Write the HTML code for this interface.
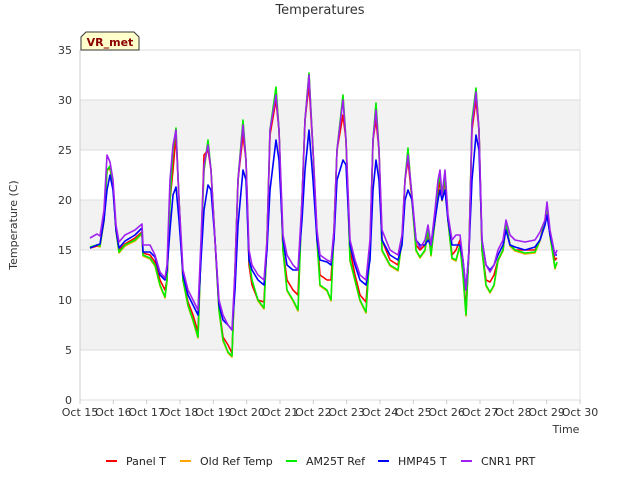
<!DOCTYPE html>
<html><head><meta charset="utf-8"><style>
body{margin:0;background:#fff;}
svg{display:block;font-family:"DejaVu Sans","Liberation Sans",sans-serif;}
</style></head><body>
<svg id="chart" width="640" height="480" viewBox="0 0 640 480">
<text x="320" y="14" text-anchor="middle" font-size="13" fill="#333">Temperatures</text>
<g id="bands"></g>
<g id="grid"></g>
<g id="yticks" font-size="11" fill="#333"></g>
<g id="xticks" font-size="11" fill="#333"></g>
<text x="17" y="225" text-anchor="middle" font-size="11" fill="#333" transform="rotate(-90 17 225)">Temperature (C)</text>
<text x="566" y="433" text-anchor="middle" font-size="11" fill="#333">Time</text>
<g id="series"></g>
<g>
<path d="M81,50 L81,37 L86,32 L134,32 L139,37 L139,50 Z" fill="#ffffcc" stroke="#333" stroke-width="1"/>
<text x="110" y="46" text-anchor="middle" font-size="11" font-weight="bold" fill="#8b0000">VR_met</text>
</g>
<g id="legend" font-size="11" fill="#222"></g>
</svg>
<script>
const times=[0.30,0.51,0.60,0.72,0.81,0.90,0.99,1.08,1.17,1.35,1.65,1.86,1.89,2.10,2.25,2.40,2.55,2.61,2.70,2.79,2.88,2.97,3.09,3.24,3.39,3.54,3.63,3.72,3.84,3.93,4.05,4.17,4.29,4.44,4.56,4.65,4.74,4.89,4.98,5.07,5.16,5.34,5.52,5.61,5.70,5.88,5.97,6.09,6.21,6.39,6.54,6.66,6.75,6.87,6.99,7.11,7.20,7.41,7.53,7.62,7.71,7.89,7.98,8.10,8.25,8.40,8.58,8.70,8.79,8.88,8.97,9.06,9.30,9.54,9.66,9.75,9.84,9.96,10.08,10.20,10.35,10.44,10.53,10.65,10.74,10.80,10.86,10.95,11.04,11.16,11.28,11.40,11.49,11.58,11.67,11.76,11.88,11.97,12.06,12.18,12.30,12.42,12.54,12.69,12.78,12.90,13.05,13.35,13.65,13.80,13.95,14.01,14.10,14.25,14.31];
const am25t=[15.3,15.5,15.4,18,23,23.4,21.5,17,14.8,15.5,16,16.7,14.5,14.2,13.5,11.5,10.3,12,20,25,27.2,20,12,9.5,8,6.3,15,23,26,23,16,9,6,4.8,4.4,13,22,28,24,14,12,10,9.2,16,27,31.3,27,15,11,10,9,20,28,32.7,25,16,11.5,11,10,17,25,30.5,26,14,12,10,8.8,15,26,29.7,25,15,13.5,13,16,22,25.2,20,15,14.3,15,17.2,14.5,18,21.5,22.5,20,22.5,18,14.2,14,15.5,12.5,8.5,15,28,31.2,27,15,11.5,10.8,11.5,14,15,17.5,15.5,15,14.7,14.8,16,17.8,19.5,16.5,13.2,13.8];
const oldRef=[15.2,15.4,15.3,17.9,22.9,23.3,21.4,16.9,14.7,15.4,15.9,16.6,14.4,14.1,13.4,11.4,10.2,11.9,19.9,24.9,27.1,19.9,11.9,9.4,7.9,6.2,14.9,22.9,25.9,22.9,15.9,8.9,5.9,4.7,4.3,12.9,21.9,27.9,23.9,13.9,11.9,9.9,9.1,15.9,26.9,31.2,26.9,14.9,10.9,9.9,8.9,19.9,27.9,32.6,24.9,15.9,11.4,10.9,9.9,16.9,24.9,30.4,25.9,13.9,11.9,9.9,8.7,14.9,25.9,29.6,24.9,14.9,13.4,12.9,15.9,21.9,25.1,19.9,14.9,14.2,14.9,17.1,14.4,17.9,21.4,22.4,19.9,22.4,17.9,14.1,13.9,15.4,12.4,8.4,14.9,27.9,31.1,26.9,14.9,11.4,10.7,11.4,13.9,14.9,17.4,15.4,14.9,14.6,14.7,15.9,17.7,19.4,16.4,13.1,13.7];
const panelT=[15.2,15.4,15.5,18,23,23.2,21.5,17,15,15.6,16.2,16.8,14.7,14.5,13.8,12,11,12,20,23,26.5,20,12,9.8,8.5,6.8,15,24.5,25,23,16,9.2,6.3,5.5,4.7,13,22,26.5,24,13.5,11.5,10,9.8,16,26.5,30,27,15,12,11,10.5,20,28,31.5,25,16.5,12.5,12,12,17,25,28.5,26,15,12.5,10.5,9.8,15,26,28,25,16,14,13.5,16,22,24,20,15.5,15,15.5,16.5,15,18,20.5,22,20,22,18,14.5,15,16,13,9,15,27,30,27,15,12,11.8,12.5,14,15,17.5,15.5,15,15,15,16,18,19.5,16.5,14,14.2];
const hmp45=[15.2,15.5,15.6,18,21,22.5,21,17,15.2,15.9,16.5,17.2,14.8,14.8,14.3,12.5,12,13,17,20.5,21.3,18,12.5,10.5,9.5,8.5,14,19,21.5,21,16,9.5,8,7.5,7,11,17.5,23,22,14,13,12,11.5,15,21,26,24,16,13.5,13,13,18,23,27,22,16,14,13.8,13.5,16,22,24,23.5,15.5,13.5,12,11.5,14,21,24,22,16,14.5,14,15.5,20,21,20,16,15.5,15.5,16,15.5,18,20,21,20,21,18,15.5,15.5,15.5,14,11,15,22,26.5,25,16,13.5,13,13.5,14.5,15.5,17,15.5,15.3,15,15.3,16,17.5,18.5,16.5,14.5,14.5];
const cnr1=[16.2,16.6,16.4,19,24.5,23.8,22,17.5,15.8,16.5,17,17.6,15.5,15.5,14.5,12.8,12.2,13.5,22,25.5,27,20,13,11,10,9,16,23.5,25.5,23,16,10,8.5,7.5,7,13,22,27.5,24,15,13.5,12.5,12,16,27,30.5,27,16.5,14.5,13.5,13,20,28,32.5,25,17,14.5,14,13.8,17,25,30,26,16,14,12.5,12,16,26,29,25,17,15,14.5,16.5,22,24.5,20.5,16,15.2,16,17.5,15.5,19,22,23,20.5,23,18.5,16,16.5,16.5,14,11,15,27.5,30.8,27,16,13.5,12.8,13.5,15,16,18,16.5,16,15.8,16,16.8,18,19.8,17,14.5,15];
const seriesNames=["Panel T","Old Ref Temp","AM25T Ref","HMP45 T","CNR1 PRT"];
const yTicks=[0,5,10,15,20,25,30,35];
const xTickLabels=["Oct 15","Oct 16","Oct 17","Oct 18","Oct 19","Oct 20","Oct 21","Oct 22","Oct 23","Oct 24","Oct 25","Oct 26","Oct 27","Oct 28","Oct 29","Oct 30"];

const NS="http://www.w3.org/2000/svg";
const X0=80,X1=580,Y0=400,Y1=50;
const xs=d=>X0+(X1-X0)*d/15;
const ys=v=>Y0-(Y0-Y1)*v/35;
function mk(tag,attrs,parent){const e=document.createElementNS(NS,tag);for(const k in attrs)e.setAttribute(k,attrs[k]);parent.appendChild(e);return e;}
const bands=document.getElementById('bands'),grid=document.getElementById('grid');
mk('rect',{x:X0,y:Y1,width:X1-X0,height:Y0-Y1,fill:'#fff'},bands);
for(let i=0;i<yTicks.length-1;i++){
  if(i%2===1){const b=mk('rect',{x:X0,y:ys(yTicks[i+1]),width:X1-X0,height:ys(yTicks[i])-ys(yTicks[i+1]),fill:'#f2f2f2'},bands);
  
  }
}
const yg=document.getElementById('yticks');
yTicks.forEach(v=>{
  const l=mk('line',{x1:X0,x2:X1,y1:ys(v),y2:ys(v),stroke:'#dcdcdc','stroke-width':1},grid);
  
  
  const t=mk('text',{x:X0-8,y:ys(v)+4,'text-anchor':'end'},yg);t.textContent=v;
  
  
});
mk('line',{x1:X0,x2:X0,y1:Y1,y2:Y0,stroke:'#ccc'},grid);
mk('line',{x1:X1,x2:X1,y1:Y1,y2:Y0,stroke:'#e0e0e0'},grid);
const xg=document.getElementById('xticks');
xTickLabels.forEach((s,i)=>{
  mk('line',{x1:xs(i),x2:xs(i),y1:Y0,y2:Y0+4,stroke:'#ccc'},grid);
  const t=mk('text',{x:xs(i),y:Y0+16,'text-anchor':'middle'},xg);t.textContent=s;
  
  
});
const sg=document.getElementById('series');
const data=[panelT,oldRef,am25t,hmp45,cnr1];
const colors=['#ff0000','#ffa500','#00ee00','#0000ff','#a020f0'];
const ids=['panel-t-line','old-ref-temp-line','am25t-ref-line','hmp45-t-line','cnr1-prt-line'];
[1,0,2,3,4].forEach(k=>{
  const d=data[k].map((v,i)=>(i?'L':'M')+xs(times[i]).toFixed(1)+','+ys(v).toFixed(1)).join('');
  const p=mk('path',{d:d,fill:'none',stroke:colors[k],'stroke-width':1.6,'stroke-linejoin':'round'},sg);
  
  
});
const lg=document.getElementById('legend');
const lx=[106,180,286,378,461];
seriesNames.forEach((n,k)=>{
  const g=mk('g',{},lg);
  
  
  mk('line',{x1:lx[k],x2:lx[k]+11,y1:461,y2:461,stroke:colors[k],'stroke-width':2},g);
  const t=mk('text',{x:lx[k]+20,y:465},g);t.textContent=n;
});
</script>
</body></html>
